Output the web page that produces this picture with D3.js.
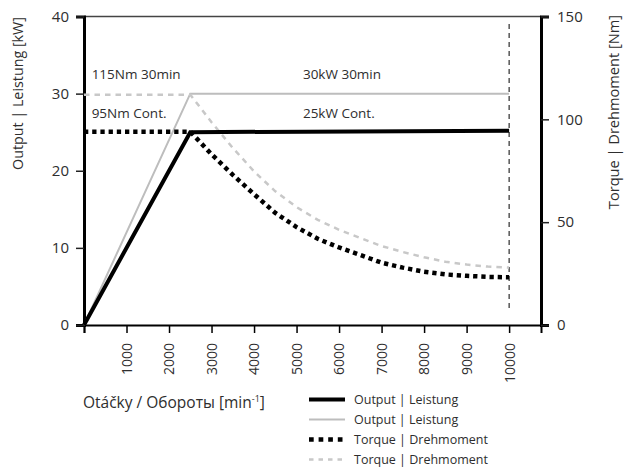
<!DOCTYPE html>
<html>
<head>
<meta charset="utf-8">
<script src="https://cdn.jsdelivr.net/npm/d3@7"></script>
<style>
  html, body { margin: 0; padding: 0; background: #fff; }
  svg { display: block; font-family: "Open Sans", sans-serif; }
</style>
</head>
<body>
<svg id="chart" width="629" height="468"></svg>
<script>
// ---- data ----
const rpmTicks = [0, 1000, 2000, 3000, 4000, 5000, 6000, 7000, 8000, 9000, 10000];
const powerTicks = [0, 10, 20, 30, 40];
const torqueTicks = [0, 50, 100, 150];

const powerRpm = [0, 2500, 10000];
const powerCont = [0, 25, 25.2];      // kW
const power30 = [0, 30, 30];          // kW

const torqueRpm = [0, 2500, 3000, 3500, 4000, 4500, 5000, 5500, 6000, 6500, 7000, 7500, 8000, 8500, 9000, 9500, 10000];
const torqueCont = [94, 94, 83, 73, 63.6, 54.5, 47.6, 41.9, 37.7, 34, 30.3, 27.9, 25.9, 24.6, 23.9, 23.4, 23.2]; // Nm
const torque30 = [112, 112, 98.6, 86.1, 74.7, 65, 57.3, 51.1, 46.3, 42.3, 38.4, 35.5, 32.9, 30.8, 29.4, 28.4, 27.9]; // Nm

const maxRpmMarker = 10000;

const annotations = [
  { text: "115Nm 30min", rpm: 180, kw: 31.9 },
  { text: "95Nm Cont.", rpm: 180, kw: 26.9 },
  { text: "30kW 30min", rpm: 5150, kw: 31.9 },
  { text: "25kW Cont.", rpm: 5150, kw: 26.9 }
];

const legendItems = [
  { label: "Output | Leistung", color: "#000", width: 4, dash: null },
  { label: "Output | Leistung", color: "#bdbdbd", width: 2, dash: null },
  { label: "Torque | Drehmoment", color: "#000", width: 4.5, dash: "4.7,4.9" },
  { label: "Torque | Drehmoment", color: "#c8c8c8", width: 2.5, dash: "4.5,5" }
];

// ---- layout ----
const svg = d3.select("#chart");
const pLeft = 84, pRight = 541, pTop = 16.5, pBottom = 325;
const textColor = "#2e2e2e";

const x = d3.scaleLinear().domain([0, 10750]).range([pLeft, pRight]);
const yP = d3.scaleLinear().domain([0, 40]).range([pBottom, pTop]);
const yT = d3.scaleLinear().domain([0, 150]).range([pBottom, pTop]);

// top frame line
svg.append("line")
  .attr("x1", x(0)).attr("x2", x.range()[1])
  .attr("y1", yP(40)).attr("y2", yP(40))
  .attr("stroke", "#444").attr("stroke-width", 1.5);

// bottom axis
const gx = svg.append("g").attr("transform", `translate(0,${pBottom})`)
  .call(d3.axisBottom(x).tickValues(rpmTicks).tickSize(8)
    .tickFormat(d => d === 0 ? "" : String(d)));
gx.select(".domain").attr("stroke", "#000").attr("stroke-width", 2);
gx.selectAll(".tick line").attr("stroke", "#000").attr("stroke-width", 1.5);
gx.selectAll(".tick text")
  .attr("y", 0).attr("x", -18).attr("dy", "0.35em")
  .attr("transform", "rotate(-90)")
  .style("text-anchor", "end")
  .attr("fill", textColor).style("font-size", "14px").style("font-family", "Open Sans");

// left axis
const gl = svg.append("g").attr("transform", `translate(${pLeft},0)`)
  .call(d3.axisLeft(yP).tickValues(powerTicks).tickSize(8).tickPadding(7));
gl.select(".domain").attr("stroke", "#000").attr("stroke-width", 3);
gl.selectAll(".tick line").attr("stroke", "#222").attr("stroke-width", 1.5);
gl.selectAll(".tick text").attr("fill", textColor).style("font-size", "15px").style("font-family", "Open Sans");

// right axis
const gr = svg.append("g").attr("transform", `translate(${pRight},0)`)
  .call(d3.axisRight(yT).tickValues(torqueTicks).tickSize(8).tickPadding(8));
gr.select(".domain").attr("stroke", "#000").attr("stroke-width", 3);
gr.selectAll(".tick line").attr("stroke", "#222").attr("stroke-width", 1.5);
gr.selectAll(".tick text").attr("fill", textColor).style("font-size", "15px").style("font-family", "Open Sans");

// axis titles
svg.append("text")
  .attr("transform", "translate(23,17) rotate(-90)")
  .attr("text-anchor", "end").attr("fill", textColor)
  .style("font-size", "14.3px")
  .text("Output | Leistung [kW]");

svg.append("text")
  .attr("transform", "translate(619,15) rotate(-90)")
  .attr("text-anchor", "end").attr("fill", textColor)
  .style("font-size", "14.6px")
  .text("Torque | Drehmoment [Nm]");

const xt = svg.append("text")
  .attr("x", 83).attr("y", 407.5).attr("fill", textColor)
  .style("font-size", "15.5px");
xt.append("tspan").text("Otáčky / Обороты [min");
xt.append("tspan").attr("dy", -6).style("font-size", "9px").text("-1");
xt.append("tspan").attr("dy", 6).text("]");

// vertical max-rpm marker
svg.append("line")
  .attr("x1", x(maxRpmMarker)).attr("x2", x(maxRpmMarker))
  .attr("y1", 24).attr("y2", 312)
  .attr("stroke", "#000").attr("stroke-width", 1)
  .attr("stroke-dasharray", "5,4");

// series
const linePower = vals => d3.line()
  .x((d, i) => x(powerRpm[i])).y(d => yP(d))(vals);
const lineTorque = vals => d3.line()
  .x((d, i) => x(torqueRpm[i])).y(d => yT(d))(vals);

svg.append("path").attr("d", linePower(power30))
  .attr("fill", "none").attr("stroke", "#bdbdbd").attr("stroke-width", 2);

svg.append("path").attr("d", lineTorque(torque30))
  .attr("fill", "none").attr("stroke", "#c8c8c8").attr("stroke-width", 2.5)
  .attr("stroke-dasharray", "5.5,5");

svg.append("path").attr("d", lineTorque(torqueCont))
  .attr("fill", "none").attr("stroke", "#000").attr("stroke-width", 4.5)
  .attr("stroke-dasharray", "4.3,3.9");

svg.append("path").attr("d", linePower(powerCont))
  .attr("fill", "none").attr("stroke", "#000").attr("stroke-width", 4)
  .attr("stroke-linejoin", "miter");

// annotations
svg.selectAll("text.anno").data(annotations).enter().append("text")
  .attr("class", "anno")
  .attr("x", d => x(d.rpm)).attr("y", d => yP(d.kw))
  .attr("fill", textColor).style("font-size", "13.5px")
  .text(d => d.text);

// legend
const lg = svg.append("g");
const rows = lg.selectAll("g").data(legendItems).enter().append("g")
  .attr("transform", (d, i) => `translate(309,${399.5 + i * 20})`);
rows.append("line")
  .attr("x1", 0).attr("x2", 36).attr("y1", 0).attr("y2", 0)
  .attr("stroke", d => d.color).attr("stroke-width", d => d.width)
  .attr("stroke-dasharray", d => d.dash);
rows.append("text")
  .attr("x", 45).attr("dy", "0.35em")
  .attr("fill", textColor).style("font-size", "12.5px")
  .text(d => d.label);
</script>
</body>
</html>
